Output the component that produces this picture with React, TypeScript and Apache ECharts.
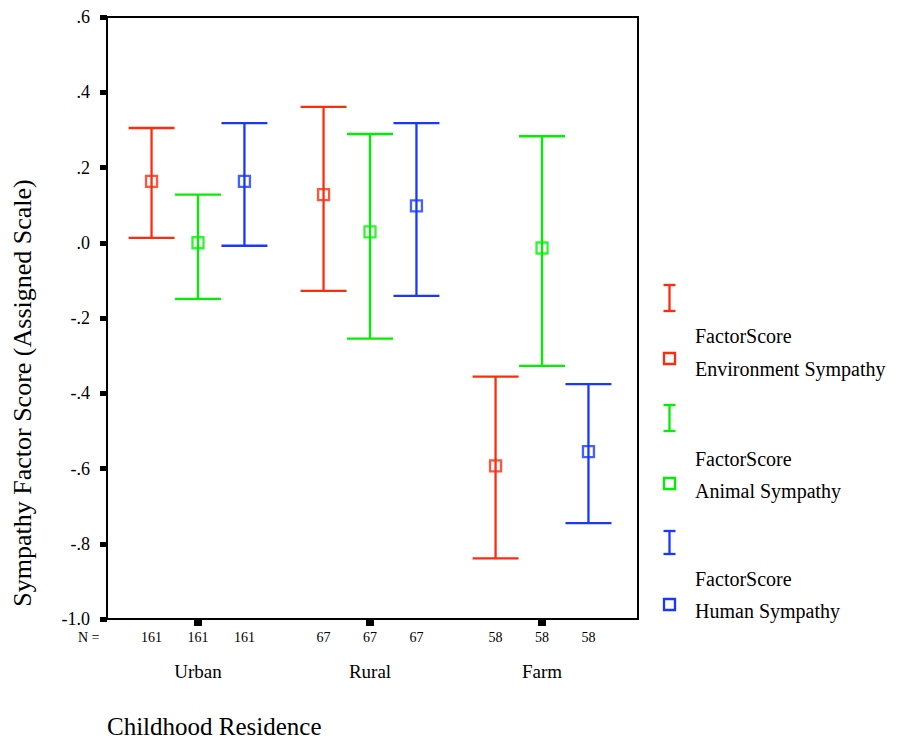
import React, { useEffect, useRef } from "react";
import * as echarts from "echarts";

const categories = ["Urban", "Rural", "Farm"];
const counts = [161, 67, 58];
const seriesNames = ["Environment Sympathy", "Animal Sympathy", "Human Sympathy"];
const envMean = [0.163, 0.128, -0.593];
const envLow = [0.013, -0.128, -0.839];
const envHigh = [0.305, 0.361, -0.356];
const aniMean = [0.0, 0.029, -0.014];
const aniLow = [-0.149, -0.255, -0.327];
const aniHigh = [0.128, 0.289, 0.283];
const humMean = [0.163, 0.098, -0.555];
const humLow = [-0.008, -0.141, -0.745];
const humHigh = [0.318, 0.318, -0.376];
const groupOffsets = [-0.27, 0, 0.27];
const colors = ["#ff2b0f", "#00f000", "#1838ff"];

const FONT = "'Liberation Serif', 'Times New Roman', serif";
const X_MIN = -0.529;
const X_MAX = 2.558;
const Y_MIN = -1.0;
const Y_MAX = 0.6;

const fmtY = (v: number) => {
  const r = Math.round(v * 10) / 10;
  if (r === 0) return ".0";
  const s = Math.abs(r).toFixed(1).replace(/^0/, "");
  return (r < 0 ? "-" : "") + s;
};

export default function App() {
  const ref = useRef<HTMLDivElement>(null);
  useEffect(() => {
    if (!ref.current) return;
    const chart = echarts.init(ref.current, undefined, { renderer: "svg" });
    const groups = [
      { mean: envMean, low: envLow, high: envHigh },
      { mean: aniMean, low: aniLow, high: aniHigh },
      { mean: humMean, low: humLow, high: humHigh },
    ];
    const series: any[] = [];
    groups.forEach((g, gi) => {
      const color = colors[gi];
      series.push({
        type: "custom",
        name: seriesNames[gi] + " CI",
        data: categories.map((_, i) => [i + groupOffsets[gi], g.low[i], g.high[i]]),
        renderItem: (params: any, api: any) => {
          const x = api.value(0);
          const lo = api.coord([x, api.value(1)]);
          const hi = api.coord([x, api.value(2)]);
          const hw = 23;
          const style = { stroke: color, lineWidth: 2.3 };
          return {
            type: "group",
            children: [
              { type: "line", shape: { x1: lo[0], y1: lo[1], x2: hi[0], y2: hi[1] }, style },
              { type: "line", shape: { x1: hi[0] - hw, y1: hi[1], x2: hi[0] + hw, y2: hi[1] }, style },
              { type: "line", shape: { x1: lo[0] - hw, y1: lo[1], x2: lo[0] + hw, y2: lo[1] }, style },
            ],
          };
        },
        z: 2,
      });
      series.push({
        type: "scatter",
        name: seriesNames[gi],
        symbol: "rect",
        symbolSize: 11,
        data: categories.map((_, i) => [i + groupOffsets[gi], g.mean[i]]),
        itemStyle: { color: "rgba(255,255,255,0)", borderColor: color, borderWidth: 2.3 },
        z: 3,
      });
    });
    // x-axis annotations: ticks, N labels, category labels
    series.push({
      type: "custom",
      name: "annotations",
      data: categories.map((_, i) => [i]),
      clip: false,
      silent: true,
      renderItem: (params: any, api: any) => {
        const i = api.value(0);
        const base = api.coord([i, Y_MIN]);
        const children: any[] = [
          { type: "rect", shape: { x: base[0] - 4, y: base[1] + 1, width: 8, height: 6 }, style: { fill: "#000" } },
          {
            type: "text",
            x: base[0],
            y: base[1] + 52,
            style: { text: categories[i], fill: "#000", font: `19px ${FONT}`, align: "center", verticalAlign: "middle" },
          },
        ];
        groupOffsets.forEach((o) => {
          const p = api.coord([i + o, Y_MIN]);
          children.push({
            type: "text",
            x: p[0],
            y: base[1] + 18,
            style: { text: String(counts[i]), fill: "#000", font: `14px ${FONT}`, align: "center", verticalAlign: "middle" },
          });
        });
        return { type: "group", children };
      },
    });

    const legendGraphics: any[] = [];
    const legendTops = [285, 405, 531];
    const squareTops = [353, 478, 599];
    const line1Y = [336, 459, 579];
    const line2Y = [369, 491, 611];
    colors.forEach((c, k) => {
      const cx = 669.5;
      const t = legendTops[k];
      const h = k === 2 ? 23 : 26;
      const st = { stroke: c, lineWidth: 2.3 };
      legendGraphics.push(
        { type: "line", shape: { x1: cx, y1: t, x2: cx, y2: t + h }, style: st },
        { type: "line", shape: { x1: cx - 6, y1: t, x2: cx + 6, y2: t }, style: st },
        { type: "line", shape: { x1: cx - 6, y1: t + h, x2: cx + 6, y2: t + h }, style: st },
        { type: "rect", shape: { x: 664, y: squareTops[k], width: 11, height: 11 }, style: { fill: "none", stroke: c, lineWidth: 2.3 } },
        { type: "text", x: 695, y: line1Y[k], style: { text: "FactorScore", fill: "#000", font: `20px ${FONT}`, verticalAlign: "middle" } },
        { type: "text", x: 695, y: line2Y[k], style: { text: seriesNames[k], fill: "#000", font: `20px ${FONT}`, verticalAlign: "middle" } }
      );
    });

    chart.setOption({
      animation: false,
      backgroundColor: "#fff",
      grid: { left: 107, right: 261, top: 17, bottom: 123, show: true, borderColor: "#000", borderWidth: 2, backgroundColor: "transparent" },
      xAxis: {
        type: "value",
        min: X_MIN,
        max: X_MAX,
        axisLine: { show: true, onZero: false, lineStyle: { color: "#000", width: 2 } },
        axisTick: { show: false },
        axisLabel: { show: false },
        splitLine: { show: false },
      },
      yAxis: {
        type: "value",
        min: Y_MIN,
        max: Y_MAX,
        interval: 0.2,
        axisLine: { show: true, onZero: false, lineStyle: { color: "#000", width: 2 } },
        axisTick: { show: true, length: 7, inside: false, lineStyle: { color: "#000", width: 5 } },
        axisLabel: { formatter: fmtY, color: "#000", fontSize: 18, fontFamily: FONT, margin: 17 },
        splitLine: { show: false },
      },
      graphic: [
        {
          type: "text",
          x: 22,
          y: 393,
          rotation: Math.PI / 2,
          style: { text: "Sympathy Factor Score (Assigned Scale)", fill: "#000", font: `26px ${FONT}`, align: "center", verticalAlign: "middle" },
        },
        {
          type: "text",
          x: 107,
          y: 726,
          style: { text: "Childhood Residence", fill: "#000", font: `25px ${FONT}`, verticalAlign: "middle" },
        },
        {
          type: "text",
          x: 78,
          y: 637,
          style: { text: "N =", fill: "#000", font: `14px ${FONT}`, verticalAlign: "middle" },
        },
        ...legendGraphics,
      ],
      series,
    });
    return () => chart.dispose();
  }, []);
  return <div ref={ref} style={{ position: "fixed", left: 0, top: 0, width: 899, height: 742 }} />;
}
